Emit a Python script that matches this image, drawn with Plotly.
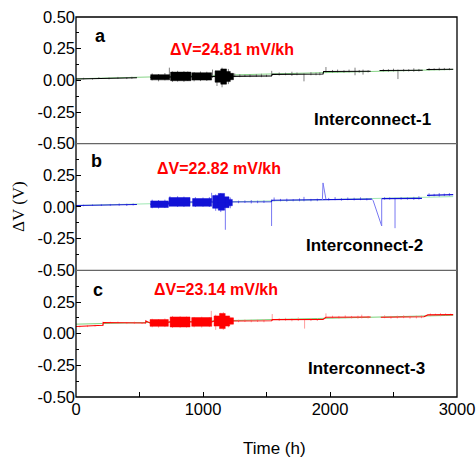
import plotly.graph_objects as go
from plotly.subplots import make_subplots

# ---------------- data ----------------
# quiet baseline of each trace (None = gap in the record)
base_a_t = [0, 480, None, 585, 740, 745, 905, 912, 1068, 1090, 1240, 1540, 1545, 1945, 1950, 2320, None, 2390, 2730, None, 2760, 2970]
base_a_v = [0.010, 0.020, None, 0.024, 0.025, 0.030, 0.030, 0.029, 0.030, 0.031, 0.033, 0.035, 0.047, 0.050, 0.070, 0.072, None, 0.078, 0.080, None, 0.086, 0.088]
base_b_t = [0, 480, None, 585, 727, 732, 898, 918, 1068, 1076, 1231, 1536, 1545, 1945, 1968, 2330, None, 2407, 2724, None, 2764, 2970]
base_b_v = [0.012, 0.020, None, 0.022, 0.022, 0.040, 0.040, 0.037, 0.037, 0.040, 0.040, 0.042, 0.053, 0.055, 0.061, 0.062, None, 0.066, 0.068, None, 0.092, 0.098]
base_c_t = [0, 212, 215, 548, 551, 583, 727, 741, 898, 911, 1069, 1087, 1240, 1541, 1545, 1945, 1968, 2320, None, 2400, 2740, 2770, 2970]
base_c_v = [0.056, 0.066, 0.088, 0.084, 0.100, 0.085, 0.090, 0.093, 0.093, 0.092, 0.092, 0.100, 0.100, 0.102, 0.111, 0.112, 0.130, 0.132, None, 0.130, 0.133, 0.148, 0.150]

# dense noisy bursts (start, end, low, high)
burst_a_t0 = [588, 745, 912, 1095, 1140, 1185, 1215]
burst_a_t1 = [738, 905, 1068, 1140, 1185, 1215, 1240]
burst_a_lo = [0.004, -0.003, 0.002, -0.015, -0.030, -0.010, 0.005]
burst_a_hi = [0.045, 0.065, 0.060, 0.075, 0.090, 0.070, 0.055]
burst_b_t0 = [588, 732, 918, 1076, 1120, 1170, 1205]
burst_b_t1 = [727, 898, 1068, 1120, 1170, 1205, 1231]
burst_b_lo = [-0.004, 0.006, 0.006, -0.010, -0.025, -0.005, 0.010]
burst_b_hi = [0.048, 0.075, 0.067, 0.090, 0.107, 0.080, 0.060]
burst_c_t0 = [583, 741, 911, 1087, 1130, 1175, 1210]
burst_c_t1 = [727, 898, 1069, 1130, 1175, 1210, 1240]
burst_c_lo = [0.058, 0.053, 0.058, 0.060, 0.040, 0.060, 0.075]
burst_c_hi = [0.111, 0.132, 0.127, 0.140, 0.159, 0.140, 0.125]

# individual spikes (time, low, high)
spike_a_t = [60, 130, 180, 260, 330, 400, 440, 600, 650, 700, 735, 760, 800, 850, 880, 930, 980, 1030, 1075, 1110, 1150, 1200, 1250,
             1290, 1330, 1370, 1420, 1460, 1500, 1541, 1600, 1650, 1700, 1740, 1795, 1850, 1890, 1920,
             1968, 2020, 2060, 2110, 2150, 2197, 2230, 2260, 2300, 2420, 2460, 2500, 2535, 2580, 2620, 2660, 2700,
             2780, 2820, 2860, 2900, 2940]
spike_a_lo = [0.008, 0.006, 0.010, 0.008, 0.012, 0.010, 0.012, 0.000, -0.008, 0.000, 0.020, -0.012, -0.010, -0.012, -0.005, -0.008, -0.006, -0.005, 0.020, -0.045, -0.055, -0.030, 0.025,
              0.025, 0.028, 0.025, 0.027, 0.025, 0.028, 0.035, 0.038, 0.040, 0.035, 0.040, -0.008, 0.040, 0.040, 0.040,
              0.060, 0.060, 0.062, 0.060, 0.063, 0.040, 0.060, 0.045, 0.062, 0.070, 0.068, 0.070, 0.010, 0.070, 0.070, 0.068, 0.070,
              0.078, 0.080, 0.078, 0.080, 0.080]
spike_a_hi = [0.020, 0.018, 0.024, 0.022, 0.027, 0.026, 0.028, 0.055, 0.050, 0.058, 0.100, 0.070, 0.075, 0.072, 0.070, 0.065, 0.070, 0.068, 0.085, 0.070, 0.100, 0.090, 0.055,
              0.050, 0.045, 0.048, 0.050, 0.052, 0.045, 0.075, 0.062, 0.060, 0.068, 0.062, 0.055, 0.065, 0.060, 0.064,
              0.105, 0.082, 0.085, 0.080, 0.085, 0.100, 0.082, 0.085, 0.080, 0.090, 0.088, 0.092, 0.085, 0.090, 0.088, 0.095, 0.090,
              0.097, 0.095, 0.100, 0.098, 0.097]

spike_b_t = [60, 130, 200, 270, 340, 400, 450, 600, 650, 700, 740, 800, 850, 940, 1000, 1050, 1068, 1100, 1140, 1176, 1215,
             1280, 1330, 1380, 1430, 1480, 1540, 1560, 1610, 1660, 1710, 1760, 1795, 1850, 1900,
             1990, 2040, 2090, 2140, 2190, 2240, 2290, 2430, 2470, 2512, 2560, 2610, 2660, 2700,
             2780, 2820, 2860, 2900, 2940]
spike_b_lo = [0.006, 0.008, 0.008, 0.010, 0.010, 0.008, 0.012, -0.010, -0.012, -0.008, 0.010, 0.000, 0.000, 0.000, 0.002, 0.000, 0.040, -0.030, -0.040, -0.180, -0.010,
              0.030, 0.032, 0.028, 0.030, 0.032, -0.150, 0.045, 0.045, 0.042, 0.045, 0.045, 0.045, 0.045, 0.046,
              0.052, 0.054, 0.050, 0.054, 0.052, 0.054, 0.052, 0.058, 0.058, -0.167, 0.058, 0.058, 0.056, 0.058,
              0.082, 0.085, 0.082, 0.086, 0.088]
spike_b_hi = [0.018, 0.020, 0.022, 0.024, 0.028, 0.026, 0.028, 0.058, 0.055, 0.058, 0.085, 0.085, 0.082, 0.078, 0.075, 0.078, 0.112, 0.100, 0.110, 0.050, 0.075,
              0.050, 0.052, 0.055, 0.050, 0.052, 0.060, 0.075, 0.064, 0.066, 0.062, 0.068, 0.080, 0.064, 0.066,
              0.072, 0.078, 0.070, 0.075, 0.073, 0.076, 0.070, 0.078, 0.076, 0.072, 0.078, 0.076, 0.080, 0.085,
              0.108, 0.104, 0.110, 0.106, 0.110]
glitch_b1_t = [1940, 1945, 1968]
glitch_b1_v = [0.055, 0.190, 0.061]
glitch_b2_t = [2330, 2340, 2407, 2407]
glitch_b2_v = [0.062, 0.050, -0.150, 0.066]

spike_c_t = [30, 90, 150, 212, 270, 330, 400, 460, 520, 548, 600, 650, 700, 760, 820, 870, 930, 990, 1050, 1065, 1100, 1140, 1160, 1200,
             1280, 1330, 1380, 1430, 1480, 1545, 1600, 1650, 1700, 1750, 1800, 1850, 1900,
             1968, 2020, 2070, 2120, 2170, 2220, 2250, 2300, 2430, 2480, 2530, 2580, 2630, 2680, 2720,
             2790, 2830, 2870, 2910, 2950]
spike_c_lo = [0.050, 0.052, 0.056, 0.060, 0.080, 0.078, 0.076, 0.078, 0.076, 0.080, 0.050, 0.048, 0.052, 0.045, 0.046, 0.048, 0.050, 0.048, 0.052, 0.090, 0.030, 0.045, 0.030, 0.050,
              0.090, 0.092, 0.090, 0.092, 0.090, 0.100, 0.100, 0.102, 0.098, 0.100, 0.040, 0.100, 0.100,
              0.120, 0.120, 0.118, 0.122, 0.120, 0.118, 0.120, 0.120, 0.122, 0.118, 0.120, 0.122, 0.118, 0.120, 0.122,
              0.138, 0.140, 0.138, 0.142, 0.140]
spike_c_hi = [0.062, 0.066, 0.070, 0.095, 0.094, 0.095, 0.092, 0.094, 0.092, 0.108, 0.118, 0.115, 0.120, 0.140, 0.138, 0.135, 0.132, 0.134, 0.130, 0.180, 0.150, 0.165, 0.170, 0.140,
              0.110, 0.112, 0.110, 0.112, 0.115, 0.155, 0.122, 0.125, 0.120, 0.128, 0.118, 0.124, 0.122,
              0.160, 0.142, 0.140, 0.145, 0.140, 0.142, 0.150, 0.140, 0.145, 0.140, 0.142, 0.145, 0.140, 0.142, 0.144,
              0.160, 0.158, 0.162, 0.160, 0.158]

fit_t = [0, 2970]
fit_a = [0.012, 0.086]
fit_b = [0.012, 0.082]
fit_c = [0.075, 0.145]

labels = ["a", "b", "c"]
rates = ["ΔV=24.81 mV/kh", "ΔV=22.82 mV/kh", "ΔV=23.14 mV/kh"]
names = ["Interconnect-1", "Interconnect-2", "Interconnect-3"]


# ---------------- helpers ----------------
def burst_xy(t0, t1, lo, hi):
    xs, ys = [], []
    for a, b, l, h in zip(t0, t1, lo, hi):
        xs += [a, b, b, a, a, None]
        ys += [l, l, h, h, l, None]
    return xs, ys


def spike_xy(t, lo, hi):
    xs, ys = [], []
    for ti, l, h in zip(t, lo, hi):
        xs += [ti, ti, None]
        ys += [l, h, None]
    return xs, ys


fig = make_subplots(rows=3, cols=1, shared_xaxes=True, vertical_spacing=0)

series = [
    (base_a_t, base_a_v, (burst_a_t0, burst_a_t1, burst_a_lo, burst_a_hi), (spike_a_t, spike_a_lo, spike_a_hi),
     fit_a, "#000000", "#808080", "#86d486"),
    (base_b_t, base_b_v, (burst_b_t0, burst_b_t1, burst_b_lo, burst_b_hi), (spike_b_t, spike_b_lo, spike_b_hi),
     fit_b, "#1212d6", "#7878f2", "#9fe8b4"),
    (base_c_t, base_c_v, (burst_c_t0, burst_c_t1, burst_c_lo, burst_c_hi), (spike_c_t, spike_c_lo, spike_c_hi),
     fit_c, "#ff0000", "#ff9c9c", "#7ad27a"),
]

for i, (bt, bv, bu, sp, fit, col, light, fcol) in enumerate(series, start=1):
    fig.add_trace(go.Scatter(x=fit_t, y=fit, mode="lines",
                             line=dict(color=fcol, width=1), hoverinfo="skip"),
                  row=i, col=1)
    sx, sy = spike_xy(*sp)
    fig.add_trace(go.Scatter(x=sx, y=sy, mode="lines",
                             line=dict(color=light, width=1), hoverinfo="skip"),
                  row=i, col=1)
    ux, uy = burst_xy(*bu)
    fig.add_trace(go.Scatter(x=ux, y=uy, mode="lines", fill="toself", fillcolor=col,
                             line=dict(color=col, width=0.5), hoverinfo="skip"),
                  row=i, col=1)
    fig.add_trace(go.Scatter(x=bt, y=bv, mode="lines", connectgaps=False,
                             line=dict(color=col, width=1.1), hoverinfo="skip"),
                  row=i, col=1)

fig.add_trace(go.Scatter(x=glitch_b1_t, y=glitch_b1_v, mode="lines",
                         line=dict(color="#7878f2", width=1)), row=2, col=1)
fig.add_trace(go.Scatter(x=glitch_b2_t, y=glitch_b2_v, mode="lines",
                         line=dict(color="#7878f2", width=1)), row=2, col=1)

tick_font = dict(family="Liberation Sans, Arial, sans-serif", size=16.5, color="black")

for i in range(1, 4):
    fig.update_xaxes(range=[0, 3000], showgrid=False, zeroline=False, showline=False,
                     automargin=False, ticklabeloverflow="allow",
                     tickvals=[0, 1000, 2000, 3000], tickfont=tick_font,
                     ticks="inside" if i == 3 else "", ticklen=5, tickcolor="black",
                     minor=dict(dtick=500, tick0=0, ticks="inside" if i == 3 else "",
                                ticklen=5, tickcolor="black"),
                     row=i, col=1)
    yvals = [-0.5, -0.25, 0, 0.25, 0.5] if i == 1 else [-0.5, -0.25, 0, 0.25]
    fig.update_yaxes(range=[-0.5, 0.5], showgrid=False, zeroline=False, showline=False,
                     automargin=False, ticklabeloverflow="allow",
                     tickvals=yvals, ticktext=["%.2f" % v for v in yvals],
                     tickfont=tick_font, ticks="inside", ticklen=5, tickcolor="black",
                     minor=dict(dtick=0.125, tick0=-0.5, ticks="inside", ticklen=3,
                                tickcolor="black"),
                     row=i, col=1)

# frame
fig.add_shape(type="rect", xref="paper", yref="paper", x0=0, x1=1, y0=0, y1=1,
              line=dict(color="black", width=1.3), layer="above")
for yy in (1 / 3, 2 / 3):
    fig.add_shape(type="line", xref="paper", yref="paper", x0=0, x1=1, y0=yy, y1=yy,
                  line=dict(color="#666666", width=1.2), layer="above")

W, H = 476, 459
L, R, T, B = 76, 457, 17, 397  # plot-area edges in page pixels


def px(x):
    return (x - L) / (R - L)


def py(y):
    return (B - y) / (B - T)


bold = dict(family="Liberation Sans, Arial, sans-serif", color="black")
pos_letter = [(100, 36), (96, 161), (98, 290)]
pos_rate = [(232, 49), (219, 168), (216, 289)]
pos_name = [(372, 119.5), (364, 245), (366, 368)]
for k in range(3):
    fig.add_annotation(x=px(pos_letter[k][0]), y=py(pos_letter[k][1]), xref="paper", yref="paper",
                       text="<b>%s</b>" % labels[k], showarrow=False,
                       font=dict(bold, size=18), xanchor="center", yanchor="middle")
    fig.add_annotation(x=px(pos_rate[k][0]), y=py(pos_rate[k][1]), xref="paper", yref="paper",
                       text="<b>%s</b>" % rates[k], showarrow=False,
                       font=dict(family="Liberation Sans, Arial, sans-serif", size=16, color="#ff0000"),
                       xanchor="center", yanchor="middle")
    fig.add_annotation(x=px(pos_name[k][0]), y=py(pos_name[k][1]), xref="paper", yref="paper",
                       text="<b>%s</b>" % names[k], showarrow=False,
                       font=dict(bold, size=17), xanchor="center", yanchor="middle")

fig.add_annotation(x=px(18), y=py(207), xref="paper", yref="paper", text="ΔV (V)",
                   textangle=-90, showarrow=False,
                   font=dict(family="Liberation Serif, Times New Roman, serif", size=17, color="black"),
                   xanchor="center", yanchor="middle")
fig.add_annotation(x=px(274), y=py(448), xref="paper", yref="paper", text="Time (h)",
                   showarrow=False,
                   font=dict(family="Liberation Sans, Arial, sans-serif", size=17, color="black"),
                   xanchor="center", yanchor="middle")

fig.update_layout(width=W, height=H, showlegend=False, hovermode=False,
                  margin=dict(l=L, r=W - R, t=T, b=H - B, autoexpand=False),
                  paper_bgcolor="white", plot_bgcolor="white")

fig.write_html("out.html", config={"displayModeBar": False, "staticPlot": True},
               post_script="document.body.style.margin='0';document.body.style.overflow='hidden';")
